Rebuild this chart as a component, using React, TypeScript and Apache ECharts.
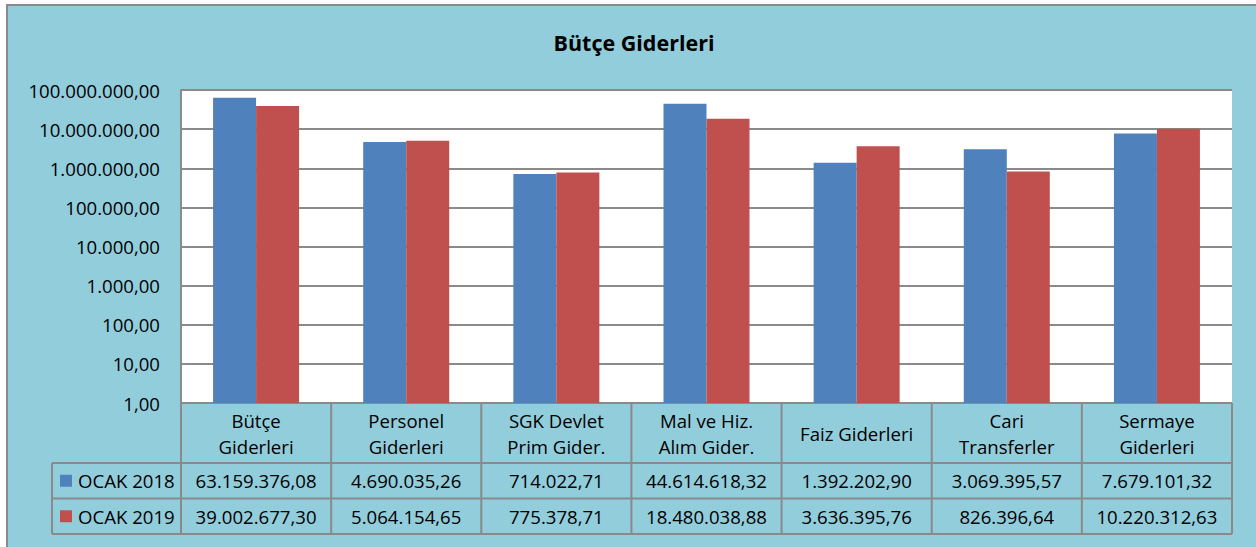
import React, { useEffect, useRef } from "react";
import * as echarts from "echarts";

const categories = [
  "Bütçe\nGiderleri",
  "Personel\nGiderleri",
  "SGK Devlet\nPrim Gider.",
  "Mal ve Hiz.\nAlım Gider.",
  "Faiz Giderleri",
  "Cari\nTransferler",
  "Sermaye\nGiderleri",
];
const seriesNames = ["OCAK 2018", "OCAK 2019"];
const ocak2018 = [63159376.08, 4690035.26, 714022.71, 44614618.32, 1392202.9, 3069395.57, 7679101.32];
const ocak2019 = [39002677.3, 5064154.65, 775378.71, 18480038.88, 3636395.76, 826396.64, 10220312.63];
const colors = ["#4F81BD", "#C0504D"];

const FONT = "'Open Sans', sans-serif";
const FS = 18.6;
const GRID_LEFT = 181;
const GRID_RIGHT_X = 1232;
const GRID_TOP = 90;
const GRID_BOTTOM_Y = 403;
const COL_W = (GRID_RIGHT_X - GRID_LEFT) / categories.length;
const HEADER_BOTTOM = 463;
const ROW_H = 35.5;
const LEGEND_LEFT = 52;
const LINE = "#8A8A8A";

function fmt(v: number): string {
  const s = v.toFixed(2);
  const [intPart, dec] = s.split(".");
  const withDots = intPart.replace(/\B(?=(\d{3})+(?!\d))/g, ".");
  return withDots + "," + dec;
}

export default function App() {
  const ref = useRef<HTMLDivElement>(null);
  useEffect(() => {
    if (!ref.current) return;
    const chart = echarts.init(ref.current, null, { renderer: "svg" });
    const rows = [ocak2018, ocak2019];
    const graphics: any[] = [];
    graphics.push({
      type: "rect",
      z: -10,
      silent: true,
      shape: { x: 7, y: 5, width: 1270, height: 570 },
      style: { fill: "#92CDDC", stroke: LINE, lineWidth: 2 },
    });
    graphics.push({
      type: "text",
      x: 634,
      y: 42,
      style: {
        text: "Bütçe Giderleri",
        font: `bold 21.5px ${FONT}`,
        fill: "#000",
        textAlign: "center",
        textVerticalAlign: "middle",
      },
    });
    const tableBottom = HEADER_BOTTOM + ROW_H * rows.length;
    graphics.push({ type: "line", shape: { x1: GRID_LEFT, y1: GRID_BOTTOM_Y, x2: GRID_RIGHT_X, y2: GRID_BOTTOM_Y }, style: { stroke: LINE, lineWidth: 2 } });
    for (let r = 0; r <= rows.length; r++) {
      const y = HEADER_BOTTOM + r * ROW_H;
      graphics.push({ type: "line", shape: { x1: LEGEND_LEFT, y1: y, x2: GRID_RIGHT_X, y2: y }, style: { stroke: LINE, lineWidth: 2 } });
    }
    graphics.push({ type: "line", shape: { x1: LEGEND_LEFT, y1: HEADER_BOTTOM, x2: LEGEND_LEFT, y2: tableBottom }, style: { stroke: LINE, lineWidth: 2 } });
    for (let i = 0; i <= categories.length; i++) {
      const x = GRID_LEFT + i * COL_W;
      graphics.push({ type: "line", shape: { x1: x, y1: GRID_BOTTOM_Y, x2: x, y2: tableBottom }, style: { stroke: LINE, lineWidth: 2 } });
    }
    categories.forEach((c, i) => {
      graphics.push({
        type: "text",
        x: GRID_LEFT + (i + 0.5) * COL_W,
        y: (GRID_BOTTOM_Y + HEADER_BOTTOM) / 2,
        style: {
          text: c,
          font: `${FS}px ${FONT}`,
          lineHeight: 26,
          fill: "#000",
          textAlign: "center",
          textVerticalAlign: "middle",
        },
      });
    });
    rows.forEach((vals, r) => {
      const yc = HEADER_BOTTOM + (r + 0.5) * ROW_H;
      graphics.push({ type: "rect", shape: { x: 60, y: yc - 6, width: 12, height: 12 }, style: { fill: colors[r] } });
      graphics.push({
        type: "text",
        x: 78,
        y: yc,
        style: { text: seriesNames[r], font: `${FS}px ${FONT}`, fill: "#000", textAlign: "left", textVerticalAlign: "middle" },
      });
      vals.forEach((v, i) => {
        graphics.push({
          type: "text",
          x: GRID_LEFT + (i + 0.5) * COL_W,
          y: yc,
          style: { text: fmt(v), font: `${FS}px ${FONT}`, fill: "#000", textAlign: "center", textVerticalAlign: "middle" },
        });
      });
    });

    chart.setOption({
      animation: false,
      backgroundColor: "#FFFFFF",
      grid: {
        left: GRID_LEFT,
        top: GRID_TOP,
        width: GRID_RIGHT_X - GRID_LEFT,
        height: GRID_BOTTOM_Y - GRID_TOP,
        show: true,
        backgroundColor: "#FFFFFF",
        borderWidth: 0,
        containLabel: false,
      },
      xAxis: {
        type: "category",
        data: categories,
        axisLabel: { show: false },
        axisTick: { show: false },
        axisLine: { show: false },
      },
      yAxis: {
        type: "log",
        logBase: 10,
        min: 1,
        max: 100000000,
        splitNumber: 8,
        axisLine: { show: true, lineStyle: { color: LINE, width: 2 } },
        axisTick: { show: false },
        splitLine: { show: true, lineStyle: { color: LINE, width: 2 } },
        axisLabel: {
          formatter: (v: number) => fmt(v),
          fontFamily: FONT,
          fontSize: FS,
          color: "#000",
          margin: 21,
        },
      },
      series: [
        { name: seriesNames[0], type: "bar", data: ocak2018, barWidth: 43, barGap: "0%", itemStyle: { color: colors[0] } },
        { name: seriesNames[1], type: "bar", data: ocak2019, barWidth: 43, barGap: "0%", itemStyle: { color: colors[1] } },
      ],
      graphic: graphics,
    });
    return () => chart.dispose();
  }, []);
  return (
    <div
      ref={ref}
      style={{ position: "fixed", left: 0, top: 0, width: 1256, height: 547 }}
    />
  );
}
